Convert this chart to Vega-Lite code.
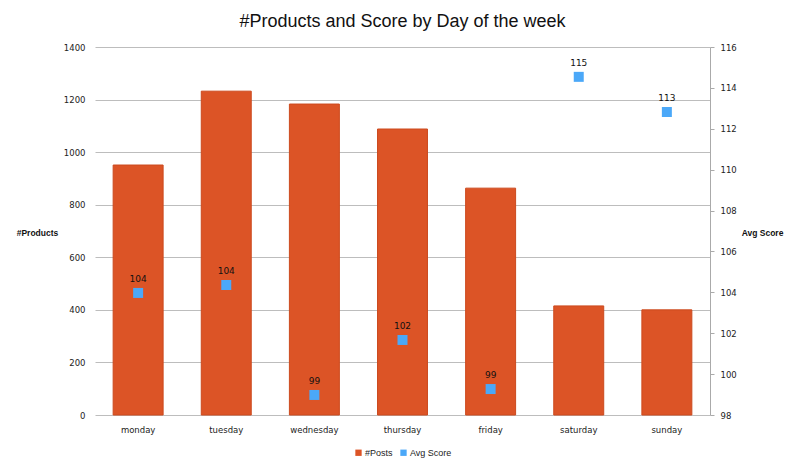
{
  "$schema": "https://vega.github.io/schema/vega-lite/v6.json",
  "width": 615,
  "height": 368,
  "autosize": {"type": "none"},
  "padding": {"left": 95, "top": 47, "right": 90, "bottom": 55},
  "background": "white",
  "config": {
    "view": {"stroke": null},
    "font": "DejaVu Sans",
    "axis": {"labelFont": "DejaVu Sans", "labelFontSize": 8.5, "labelColor": "#222", "titleFont": "Liberation Sans"}
  },
  "title": {
    "text": "#Products and Score by Day of the week",
    "font": "Liberation Sans",
    "fontSize": 18,
    "fontWeight": "normal",
    "color": "#111",
    "anchor": "middle",
    "offset": 12
  },
  "data": {
    "values": [
      {"day": "monday", "posts": 951, "score": 103.97},
      {"day": "tuesday", "posts": 1232, "score": 104.36},
      {"day": "wednesday", "posts": 1183, "score": 98.98},
      {"day": "thursday", "posts": 1088, "score": 101.67},
      {"day": "friday", "posts": 863, "score": 99.27},
      {"day": "saturday", "posts": 415, "score": 114.54},
      {"day": "sunday", "posts": 400, "score": 112.82}
    ]
  },
  "encoding": {
    "x": {
      "field": "day",
      "type": "nominal",
      "sort": ["monday", "tuesday", "wednesday", "thursday", "friday", "saturday", "sunday"],
      "scale": {"paddingInner": 0.433, "paddingOuter": 0.206},
      "axis": {"title": null, "labelAngle": 0, "ticks": false, "domain": false, "labelPadding": 10}
    }
  },
  "layer": [
    {
      "mark": {"type": "bar", "stroke": "#CC4A1E", "strokeWidth": 1},
      "encoding": {
        "y": {
          "field": "posts",
          "type": "quantitative",
          "scale": {"domain": [0, 1400]},
          "axis": {
            "values": [0, 200, 400, 600, 800, 1000, 1200, 1400],
            "format": "d",
            "title": "#Products",
            "titleAngle": 0,
            "titleX": -58,
            "titleY": 185,
            "titleAlign": "center",
            "titleBaseline": "middle",
            "titleFontSize": 8.5,
            "titleFontWeight": "bold",
            "titleColor": "#111",
            "domain": false,
            "ticks": false,
            "labelPadding": 10,
            "grid": true,
            "gridColor": "#bdbdbd",
            "gridWidth": 1
          }
        },
        "color": {
          "datum": "#Posts",
          "type": "nominal",
          "scale": {"domain": ["#Posts", "Avg Score"], "range": ["#DC5426", "#4BA8F8"]},
          "legend": {
            "title": null,
            "orient": "none",
            "direction": "horizontal",
            "legendX": 259,
            "legendY": 401,
            "symbolType": "square",
            "symbolSize": 40,
            "symbolStrokeWidth": 0,
            "labelFont": "Liberation Sans",
            "labelFontSize": 9,
            "labelColor": "#222",
            "columnPadding": 6,
            "labelOffset": 2
          }
        }
      }
    },
    {
      "layer": [
        {
          "mark": {"type": "square", "size": 100, "opacity": 1, "filled": true},
          "encoding": {
            "color": {"datum": "Avg Score", "type": "nominal"}
          }
        },
        {
          "mark": {"type": "text", "dy": -14, "fontSize": 9, "font": "DejaVu Sans", "color": "#111"},
          "encoding": {
            "text": {"field": "score", "type": "quantitative", "format": ".0f"}
          }
        }
      ],
      "encoding": {
        "y": {
          "field": "score",
          "type": "quantitative",
          "scale": {"domain": [98, 116], "zero": false, "nice": false},
          "axis": {
            "orient": "right",
            "values": [98, 100, 102, 104, 106, 108, 110, 112, 114, 116],
            "title": "Avg Score",
            "titleAngle": 0,
            "titleX": 52,
            "titleY": 185,
            "titleAlign": "center",
            "titleBaseline": "middle",
            "titleFontSize": 8.5,
            "titleFontWeight": "bold",
            "titleColor": "#111",
            "grid": false,
            "domain": true,
            "domainColor": "#aaaaaa",
            "ticks": true,
            "tickColor": "#aaaaaa",
            "tickSize": 4,
            "labelPadding": 6
          }
        }
      }
    }
  ],
  "resolve": {"scale": {"y": "independent"}}
}
